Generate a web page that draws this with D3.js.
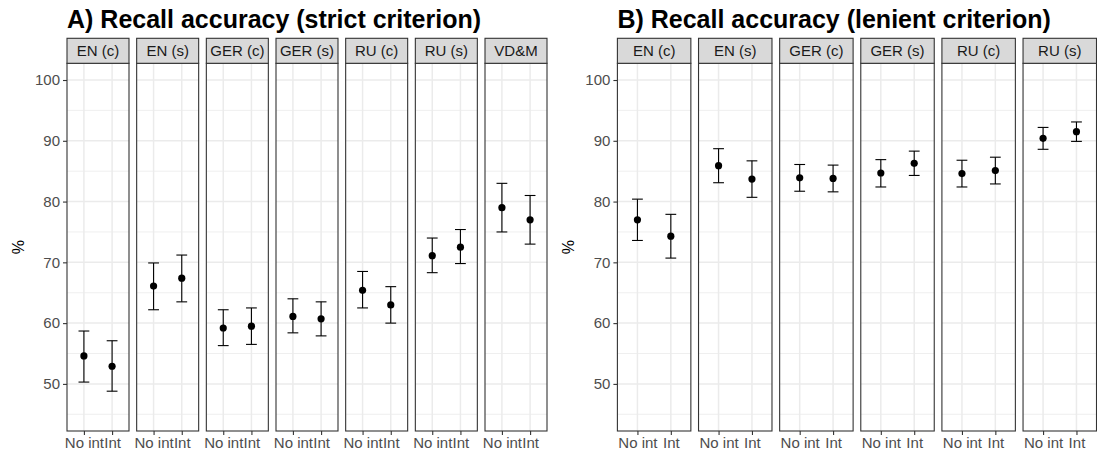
<!DOCTYPE html>
<html>
<head>
<meta charset="utf-8">
<script src="https://cdn.jsdelivr.net/npm/d3@7"></script>
<style>
  html, body { margin: 0; padding: 0; background: #fff; }
  svg { display: block; font-family: "Liberation Sans", Arial, Helvetica, sans-serif; }
</style>
</head>
<body>
<svg id="chart" width="1097" height="454"></svg>
<script>
// ---------------- DATA ----------------
const conditions = ["No int", "Int"];
const yTicks = [50, 60, 70, 80, 90, 100];
const yMinorTicks = [45, 55, 65, 75, 85, 95];

const strictTitle = "A) Recall accuracy (strict criterion)";
const strictFacets = ["EN (c)", "EN (s)", "GER (c)", "GER (s)", "RU (c)", "RU (s)", "VD&M"];
const strictMean  = [[54.6, 52.9], [66.1, 67.4], [59.2, 59.5], [61.1, 60.7], [65.4, 63.0], [71.1, 72.5], [79.0, 77.0]];
const strictLower = [[50.3, 48.8], [62.2, 63.5], [56.3, 56.5], [58.4, 57.9], [62.5, 60.0], [68.3, 69.8], [75.0, 73.0]];
const strictUpper = [[58.7, 57.1], [69.9, 71.2], [62.2, 62.5], [64.0, 63.5], [68.5, 66.0], [74.0, 75.4], [83.0, 81.0]];

const lenientTitle = "B) Recall accuracy (lenient criterion)";
const lenientFacets = ["EN (c)", "EN (s)", "GER (c)", "GER (s)", "RU (c)", "RU (s)"];
const lenientMean  = [[77.0, 74.3], [85.9, 83.7], [83.9, 83.8], [84.7, 86.3], [84.6, 85.1], [90.4, 91.5]];
const lenientLower = [[73.6, 70.7], [83.1, 80.7], [81.7, 81.6], [82.4, 84.3], [82.4, 82.9], [88.6, 89.9]];
const lenientUpper = [[80.4, 77.9], [88.7, 86.7], [86.1, 86.0], [86.9, 88.3], [86.8, 87.3], [92.2, 93.1]];

const yLabel = "%";

// ---------------- LAYOUT ----------------
const svg = d3.select("#chart");
const panelTop = 63.3, panelBottom = 431, stripH = 25;
const yDomain = [45 - 0.05 * 55, 100 + 0.05 * 55];
const y = d3.scaleLinear().domain(yDomain).range([panelBottom, panelTop]);

const C = {
  grid: "#EBEBEB", border: "#333333", strip: "#D9D9D9",
  axisText: "#4D4D4D", stripText: "#1A1A1A"
};

function drawPlot(opts) {
  const { left, right, gap, facets, mean, lower, upper, title, labelX } = opts;
  const n = facets.length;
  const pw = (right - left - gap * (n - 1)) / n;
  const g = svg.append("g");

  // title
  g.append("text").attr("x", left).attr("y", 28)
    .attr("font-size", 25).attr("font-weight", "bold").attr("fill", "#000")
    .text(title);

  // y-axis title
  g.append("text")
    .attr("transform", `translate(${labelX},${(panelTop + panelBottom) / 2}) rotate(-90)`)
    .attr("text-anchor", "middle").attr("dominant-baseline", "central")
    .attr("font-size", 16).attr("fill", "#000").text(yLabel);

  // y axis (left of first panel)
  const yAxis = d3.axisLeft(y).tickValues(yTicks).tickSize(4).tickPadding(3);
  const ya = g.append("g").attr("transform", `translate(${left},0)`).call(yAxis);
  ya.select(".domain").remove();
  ya.selectAll(".tick line").attr("stroke", C.border).attr("stroke-width", 1.1);
  ya.selectAll(".tick text").attr("fill", C.axisText).attr("font-size", 15)
    .attr("font-family", "Liberation Sans, Arial, sans-serif");

  facets.forEach((f, i) => {
    const x0 = left + i * (pw + gap);
    const x = d3.scalePoint().domain(conditions).range([x0, x0 + pw]).padding(0.6);
    const p = g.append("g");

    // background
    p.append("rect").attr("x", x0).attr("y", panelTop).attr("width", pw)
      .attr("height", panelBottom - panelTop).attr("fill", "#fff");

    // minor grid
    p.selectAll(".ming").data(yMinorTicks).join("line")
      .attr("x1", x0).attr("x2", x0 + pw)
      .attr("y1", d => y(d)).attr("y2", d => y(d))
      .attr("stroke", C.grid).attr("stroke-width", 0.8);
    // major grid
    p.selectAll(".majg").data(yTicks).join("line")
      .attr("x1", x0).attr("x2", x0 + pw)
      .attr("y1", d => y(d)).attr("y2", d => y(d))
      .attr("stroke", C.grid).attr("stroke-width", 1.5);
    p.selectAll(".vg").data(conditions).join("line")
      .attr("x1", d => x(d)).attr("x2", d => x(d))
      .attr("y1", panelTop).attr("y2", panelBottom)
      .attr("stroke", C.grid).attr("stroke-width", 1.5);

    // error bars
    const rows = conditions.map((c, j) => ({ c, m: mean[i][j], lo: lower[i][j], hi: upper[i][j] }));
    const capW = 5.4;
    rows.forEach(r => {
      const cx = x(r.c);
      p.append("line").attr("x1", cx).attr("x2", cx).attr("y1", y(r.lo)).attr("y2", y(r.hi))
        .attr("stroke", "#000").attr("stroke-width", 1.1);
      [r.lo, r.hi].forEach(v => {
        p.append("line").attr("x1", cx - capW).attr("x2", cx + capW).attr("y1", y(v)).attr("y2", y(v))
          .attr("stroke", "#000").attr("stroke-width", 1.1);
      });
      p.append("circle").attr("cx", cx).attr("cy", y(r.m)).attr("r", 3.6).attr("fill", "#000");
    });

    // border
    p.append("rect").attr("x", x0).attr("y", panelTop).attr("width", pw)
      .attr("height", panelBottom - panelTop).attr("fill", "none")
      .attr("stroke", C.border).attr("stroke-width", 1.1);

    // strip
    p.append("rect").attr("x", x0).attr("y", panelTop - stripH).attr("width", pw)
      .attr("height", stripH).attr("fill", C.strip)
      .attr("stroke", C.border).attr("stroke-width", 1.1);
    p.append("text").attr("x", x0 + pw / 2).attr("y", panelTop - stripH / 2)
      .attr("text-anchor", "middle").attr("dominant-baseline", "central")
      .attr("font-size", 15).attr("fill", C.stripText).text(f);

    // x axis
    const xAxis = d3.axisBottom(x).tickSize(4).tickPadding(2);
    const xa = p.append("g").attr("transform", `translate(0,${panelBottom})`).call(xAxis);
    xa.select(".domain").remove();
    xa.selectAll(".tick line").attr("stroke", C.border).attr("stroke-width", 1.1);
    xa.selectAll(".tick text").attr("fill", C.axisText).attr("font-size", 15)
      .attr("font-family", "Liberation Sans, Arial, sans-serif");
  });
}

drawPlot({ left: 67, right: 547, gap: 7.67, facets: strictFacets, mean: strictMean,
  lower: strictLower, upper: strictUpper, title: strictTitle, labelX: 18 });
drawPlot({ left: 617.4, right: 1096.5, gap: 7.67, facets: lenientFacets, mean: lenientMean,
  lower: lenientLower, upper: lenientUpper, title: lenientTitle, labelX: 568 });
</script>
</body>
</html>
